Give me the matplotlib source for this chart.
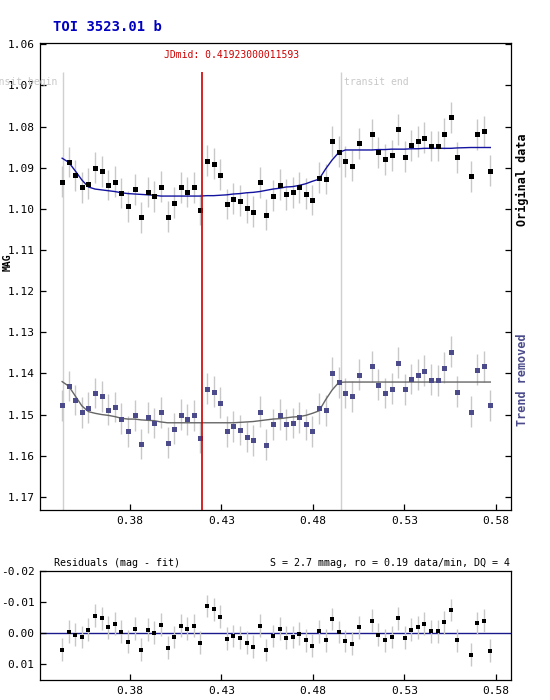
import matplotlib
matplotlib.use("Agg")
import matplotlib.pyplot as plt

plt.rcParams["font.family"] = "DejaVu Sans Mono"

# time of each exposure (days, fractional part)
time = [0.3430, 0.3466, 0.3502, 0.3538, 0.3574, 0.3610, 0.3646, 0.3682, 0.3718, 0.3754,
        0.3790, 0.3826, 0.3862, 0.3898, 0.3934, 0.3970, 0.4006, 0.4042, 0.4078, 0.4114,
        0.4150, 0.4186, 0.4222, 0.4258, 0.4294, 0.4330, 0.4366, 0.4402, 0.4438, 0.4474,
        0.4510, 0.4546, 0.4582, 0.4618, 0.4654, 0.4690, 0.4726, 0.4762, 0.4798, 0.4834,
        0.4870, 0.4906, 0.4942, 0.4978, 0.5014, 0.5050,
        0.5122, 0.5158, 0.5194, 0.5230, 0.5266, 0.5302, 0.5338, 0.5374, 0.5410, 0.5446,
        0.5482, 0.5518, 0.5554, 0.5590,
        0.5662, 0.5698, 0.5734, 0.5770]

orig_mag = [1.0934, 1.0886, 1.0919, 1.0948, 1.0939, 1.0900, 1.0909, 1.0942, 1.0934, 1.0961,
            1.0994, 1.0953, 1.1021, 1.0959, 1.0970, 1.0946, 1.1019, 1.0985, 1.0948, 1.0959,
            1.0948, 1.1002, 1.0883, 1.0890, 1.0917, 1.0988, 1.0975, 1.0980, 1.0997, 1.1007,
            1.0936, 1.1014, 1.0968, 1.0941, 1.0965, 1.0960, 1.0948, 1.0963, 1.0979, 1.0924,
            1.0928, 1.0836, 1.0861, 1.0885, 1.0895, 1.0841,
            1.0819, 1.0863, 1.0880, 1.0870, 1.0807, 1.0873, 1.0846, 1.0836, 1.0827, 1.0848,
            1.0848, 1.0817, 1.0778, 1.0875,
            1.0921, 1.0819, 1.0812, 1.0907]

orig_fit = [1.0877, 1.0887, 1.0908, 1.0930, 1.0947, 1.0952, 1.0954, 1.0956, 1.0958, 1.0961,
            1.0963, 1.0964, 1.0965, 1.0966, 1.0967, 1.0969, 1.0969, 1.0969, 1.0969, 1.0969,
            1.0969, 1.0969, 1.0968, 1.0968, 1.0967, 1.0966, 1.0964, 1.0963, 1.0961, 1.0960,
            1.0958, 1.0955, 1.0952, 1.0950, 1.0947, 1.0946, 1.0943, 1.0939, 1.0933, 1.0928,
            1.0903, 1.0881, 1.0863, 1.0857, 1.0857, 1.0857,
            1.0857, 1.0856, 1.0856, 1.0855, 1.0855, 1.0855, 1.0854, 1.0854, 1.0853, 1.0853,
            1.0853, 1.0853, 1.0853, 1.0852,
            1.0851, 1.0851, 1.0851, 1.0851]

detr_mag = [1.1478, 1.1430, 1.1464, 1.1495, 1.1483, 1.1447, 1.1456, 1.1488, 1.1481, 1.1510,
            1.1541, 1.1502, 1.1571, 1.1507, 1.1520, 1.1495, 1.1568, 1.1534, 1.1500, 1.1512,
            1.1502, 1.1556, 1.1437, 1.1444, 1.1471, 1.1541, 1.1529, 1.1537, 1.1554, 1.1563,
            1.1493, 1.1573, 1.1524, 1.1500, 1.1524, 1.1520, 1.1507, 1.1524, 1.1541, 1.1485,
            1.1490, 1.1398, 1.1422, 1.1447, 1.1456, 1.1403,
            1.1383, 1.1427, 1.1447, 1.1437, 1.1374, 1.1439, 1.1413, 1.1403, 1.1393, 1.1415,
            1.1417, 1.1386, 1.1347, 1.1444,
            1.1493, 1.1391, 1.1383, 1.1478]

detr_fit = [1.1420, 1.1431, 1.1455, 1.1479, 1.1493, 1.1497, 1.1500, 1.1502, 1.1505, 1.1509,
            1.1511, 1.1511, 1.1513, 1.1514, 1.1515, 1.1518, 1.1520, 1.1520, 1.1520, 1.1520,
            1.1520, 1.1520, 1.1520, 1.1520, 1.1520, 1.1520, 1.1520, 1.1519, 1.1518, 1.1517,
            1.1515, 1.1513, 1.1511, 1.1510, 1.1508, 1.1506, 1.1505, 1.1502, 1.1497, 1.1491,
            1.1464, 1.1440, 1.1422, 1.1421, 1.1421, 1.1421,
            1.1421, 1.1421, 1.1421, 1.1421, 1.1421, 1.1421, 1.1421, 1.1421, 1.1421, 1.1421,
            1.1421, 1.1421, 1.1421, 1.1421,
            1.1421, 1.1421, 1.1421, 1.1421]

resid = [0.0054, -0.0004, 0.0006, 0.0013, -0.0010, -0.0055, -0.0048, -0.0019, -0.0029, -0.0004,
         0.0029, -0.0013, 0.0054, -0.0010, 0.0000, -0.0026, 0.0048, 0.0013, -0.0023, -0.0013,
         -0.0023, 0.0032, -0.0087, -0.0077, -0.0052, 0.0019, 0.0010, 0.0016, 0.0032, 0.0045,
         -0.0023, 0.0055, 0.0010, -0.0013, 0.0016, 0.0013, 0.0003, 0.0023, 0.0042, -0.0006,
         0.0023, -0.0045, -0.0003, 0.0026, 0.0035, -0.0019,
         -0.0039, 0.0006, 0.0023, 0.0013, -0.0048, 0.0016, -0.0010, -0.0019, -0.0029, -0.0006,
         -0.0006, -0.0035, -0.0074, 0.0023,
         0.0071, -0.0032, -0.0039, 0.0058]

mag_err = 0.0037
jd_mid = 0.41923000011593
transit_begin = 0.3434
transit_end = 0.4952

xticks = [0.38, 0.43, 0.48, 0.53, 0.58]
mag_ticks = [1.06, 1.07, 1.08, 1.09, 1.10, 1.11, 1.12, 1.13, 1.14, 1.15, 1.16, 1.17]
res_ticks = [-0.02, -0.01, 0.00, 0.01]

xlim = (0.3309, 0.5883)
mag_lim = (1.1732, 1.0597)
res_lim = (0.0152, -0.02)
line_top = 1.0668

err_color = "#c8c8c8"
detr_color = "#4b4b8c"


def style_axis(ax):
    for spine in ax.spines.values():
        spine.set_linewidth(0.9)
    ax.tick_params(direction="in", length=4, width=0.9, labelsize=8, pad=4)


def main() -> None:
    fig = plt.figure(figsize=(5.5, 7), dpi=100)
    ax1 = fig.add_axes([40 / 550, 1 - 510 / 700, 471 / 550, 467 / 700])
    ax2 = fig.add_axes([40 / 550, 1 - 680 / 700, 471 / 550, 109 / 700])

    # main panel
    ax1.vlines([transit_begin, transit_end], line_top, mag_lim[0], color="#d0d0d0", lw=1.0, zorder=1)
    ax1.vlines(jd_mid, line_top, mag_lim[0], color="#cc0000", lw=1.2, zorder=5)

    ax1.errorbar(time, orig_mag, yerr=mag_err, fmt="none", ecolor=err_color, elinewidth=1.0, zorder=2)
    ax1.plot(time, orig_fit, color="#1414a0", lw=1.0, zorder=3)
    ax1.plot(time, orig_mag, "s", ms=3.6, color="black", mew=0, zorder=4)

    ax1.errorbar(time, detr_mag, yerr=mag_err, fmt="none", ecolor=err_color, elinewidth=1.0, zorder=2)
    ax1.plot(time, detr_fit, color="#666666", lw=1.0, zorder=3)
    ax1.plot(time, detr_mag, "s", ms=3.6, color=detr_color, mew=0, zorder=4)

    ax1.set_xlim(*xlim)
    ax1.set_ylim(*mag_lim)
    ax1.set_xticks(xticks)
    ax1.set_xticklabels([f"{t:.2f}" for t in xticks])
    ax1.set_yticks(mag_ticks)
    ax1.set_yticklabels([f"{t:.2f}" for t in mag_ticks])
    ax1.tick_params(right=True)
    style_axis(ax1)

    ax1.text(0.3989, 1.0626, f"JDmid: {jd_mid}", color="#cc0000", fontsize=7, ha="left", va="center")
    ax1.text(0.3402, 1.0691, "transit begin", color=err_color, fontsize=7, ha="right", va="center", clip_on=False)
    ax1.text(0.4970, 1.0691, "transit end", color=err_color, fontsize=7, ha="left", va="center")

    fig.text(53 / 550, 1 - 27 / 700, "TOI 3523.01 b", color="#0000c0", fontsize=10, fontweight="bold",
             ha="left", va="center")
    fig.text(8 / 550, 1 - 262 / 700, "MAG", fontsize=7, fontweight="bold", rotation=90, ha="center", va="center")
    fig.text(522 / 550, 1 - 180 / 700, "Original data", fontsize=8.5, fontweight="bold", rotation=90,
             ha="center", va="center")
    fig.text(522 / 550, 1 - 380 / 700, "Trend removed", fontsize=8.5, fontweight="bold", rotation=90,
             color=detr_color, ha="center", va="center")

    # residual panel
    ax2.axhline(0.0, color="#1a1a8c", lw=1.0, zorder=1)
    ax2.errorbar(time, resid, yerr=mag_err, fmt="none", ecolor=err_color, elinewidth=1.0, zorder=2)
    ax2.plot(time, resid, "s", ms=2.9, color="black", mew=0, zorder=3)
    ax2.set_xlim(*xlim)
    ax2.set_ylim(*res_lim)
    ax2.set_xticks(xticks)
    ax2.set_xticklabels([f"{t:.2f}" for t in xticks])
    ax2.set_yticks(res_ticks)
    ax2.set_yticklabels([f"{t:.2f}" for t in res_ticks])
    style_axis(ax2)

    ax2.text(0.03, 1.03, "Residuals (mag - fit)", transform=ax2.transAxes, fontsize=7.2, ha="left", va="bottom")
    ax2.text(0.998, 1.03, "S = 2.7 mmag, ro = 0.19 data/min, DQ = 4", transform=ax2.transAxes,
             fontsize=7.2, ha="right", va="bottom")

    fig.savefig("out.png", dpi=100)


if __name__ == "__main__":
    main()
